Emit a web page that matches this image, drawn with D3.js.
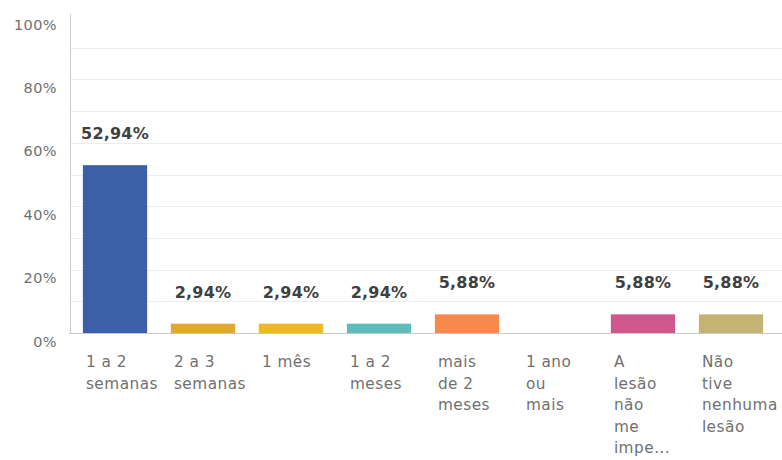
<!DOCTYPE html>
<html>
<head>
<meta charset="utf-8">
<script src="https://cdn.jsdelivr.net/npm/d3@7"></script>
<style>
  html, body { margin: 0; padding: 0; background: #fff; }
  svg { display: block; }
  text { font-family: "DejaVu Sans", "Noto Sans", sans-serif; }
</style>
</head>
<body>
<svg id="chart" width="782" height="460"></svg>
<script>
// Response categories (wrapped label lines) and percentages
const categories = [
  "1 a 2 semanas", "2 a 3 semanas", "1 mês", "1 a 2 meses",
  "mais de 2 meses", "1 ano ou mais", "A lesão não me impediu", "Não tive nenhuma lesão"
];
const categoryLines = [
  ["1 a 2", "semanas"],
  ["2 a 3", "semanas"],
  ["1 mês"],
  ["1 a 2", "meses"],
  ["mais", "de 2", "meses"],
  ["1 ano", "ou", "mais"],
  ["A", "lesão", "não", "me", "impe..."],
  ["Não", "tive", "nenhuma", "lesão"]
];
const values = [52.94, 2.94, 2.94, 2.94, 5.88, 0, 5.88, 5.88];
const valueLabels = ["52,94%", "2,94%", "2,94%", "2,94%", "5,88%", "", "5,88%", "5,88%"];
const colors = ["#3b5fa9", "#e2a932", "#efb82a", "#5fbcbb", "#f68a4c", "#9b9b9b", "#cf578b", "#c4b473"];
const yTicks = [0, 20, 40, 60, 80, 100];
const yGrid = [10, 20, 30, 40, 50, 60, 70, 80, 90];

const svg = d3.select("#chart");
const plotLeft = 70, plotRight = 775, plotTop = 16, plotBottom = 333;

const x = d3.scaleBand()
  .domain(categories)
  .range([plotLeft + 1, plotRight])
  .paddingInner(0.27)
  .paddingOuter(0.135);

const y = d3.scaleLinear().domain([0, 100]).range([plotBottom, plotTop]);

// horizontal grid
svg.append("g")
  .selectAll("line")
  .data(yGrid)
  .join("line")
  .attr("x1", plotLeft).attr("x2", 782)
  .attr("y1", d => Math.round(y(d)) + 0.5)
  .attr("y2", d => Math.round(y(d)) + 0.5)
  .attr("stroke", "#ececec")
  .attr("stroke-width", 1);

// y axis labels
svg.append("g")
  .selectAll("text")
  .data(yTicks)
  .join("text")
  .attr("x", 57)
  .attr("y", d => y(d) + 13.5)
  .attr("text-anchor", "end")
  .attr("fill", "#707070")
  .attr("font-size", 14.5)
  .attr("letter-spacing", 0.4)
  .text(d => d + "%");

// bars
svg.append("g")
  .selectAll("rect")
  .data(values)
  .join("rect")
  .attr("x", (d, i) => x(categories[i]))
  .attr("y", d => y(d))
  .attr("width", x.bandwidth())
  .attr("height", d => plotBottom - y(d))
  .attr("fill", (d, i) => colors[i]);

// value labels
svg.append("g")
  .selectAll("text")
  .data(values)
  .join("text")
  .attr("x", (d, i) => x(categories[i]) + x.bandwidth() / 2)
  .attr("y", d => y(d) - 26)
  .attr("text-anchor", "middle")
  .attr("fill", "#404040")
  .attr("font-size", 16)
  .attr("font-weight", 700)
  .attr("letter-spacing", 0.2)
  .text((d, i) => valueLabels[i]);

// axis lines
svg.append("line")
  .attr("x1", plotLeft + 0.5).attr("x2", plotLeft + 0.5)
  .attr("y1", 14).attr("y2", plotBottom)
  .attr("stroke", "#cfcfcf");
svg.append("line")
  .attr("x1", plotLeft - 1).attr("x2", 782)
  .attr("y1", plotBottom + 0.5).attr("y2", plotBottom + 0.5)
  .attr("stroke", "#c8c8c8");

// category labels
const catG = svg.append("g")
  .selectAll("text")
  .data(categories)
  .join("text")
  .attr("x", d => x(d) + 3)
  .attr("y", 367)
  .attr("fill", "#707070")
  .attr("font-size", 15.3)
  .attr("letter-spacing", 0.5);
catG.selectAll("tspan")
  .data((d, i) => categoryLines[i])
  .join("tspan")
  .attr("x", function () { return d3.select(this.parentNode).attr("x"); })
  .attr("dy", (d, j) => j === 0 ? 0 : 21.5)
  .text(d => d);
</script>
</body>
</html>
